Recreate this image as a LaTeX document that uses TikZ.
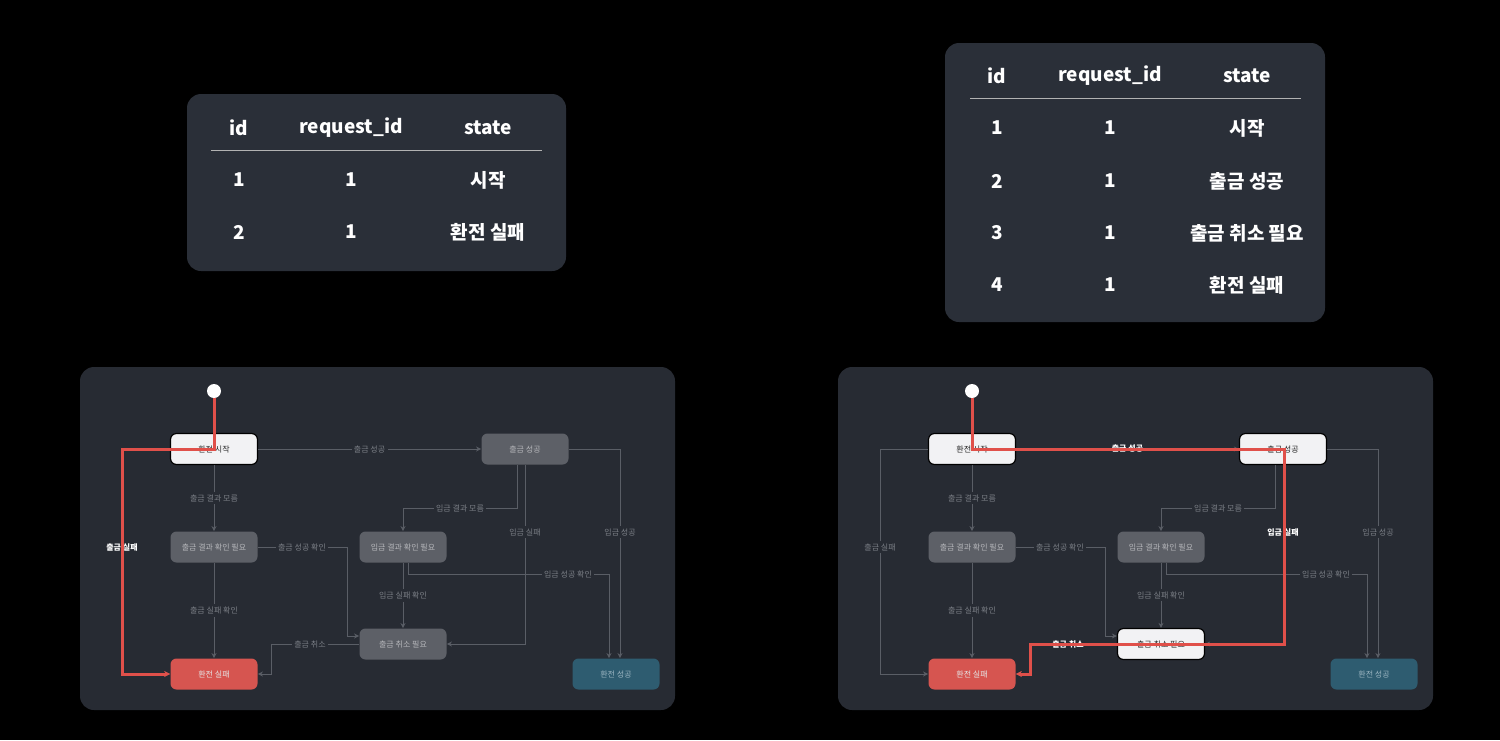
\documentclass[tikz,border=0pt]{standalone}
\usepackage{fontspec}
\setmainfont{Noto Sans CJK KR}
\usetikzlibrary{arrows.meta,calc}
\definecolor{panel}{HTML}{272B33}
\definecolor{tpanel}{HTML}{2A2F38}
\definecolor{gbox}{HTML}{5D6067}
\definecolor{gtext}{HTML}{B5B6BA}
\definecolor{edgec}{HTML}{5A5E66}
\definecolor{lblc}{HTML}{7A7E85}
\definecolor{redc}{HTML}{E0504A}
\definecolor{failc}{HTML}{D65550}
\definecolor{succc}{HTML}{2E5C70}
\definecolor{succt}{HTML}{9AB4C0}
\definecolor{wbox}{HTML}{F2F2F4}
\tikzset{
 box/.style={rectangle,rounded corners=3pt,minimum width=43.5pt,minimum height=15.5pt,inner sep=0pt,font=\fontsize{4}{5}\selectfont},
 gray/.style={fill=gbox,text=gtext},
 white/.style={fill=wbox,text=black!85,draw=black,line width=0.6pt},
 fail/.style={fill=failc,text=white!90!black},
 succ/.style={fill=succc,text=succt},
 circ/.style={circle,fill=white,minimum size=7pt,inner sep=0pt},
 edge/.style={draw=edgec,line width=0.5pt,-{Stealth[length=2.5pt,width=2.5pt]}},
 lbl/.style={fill=panel,text=lblc,inner sep=1.2pt,font=\fontsize{4}{5}\selectfont},
 hl/.style={text=white,font=\fontsize{4}{5}\selectfont\bfseries},
 redp/.style={draw=redc,line width=1.5pt,-{Stealth[length=3pt,width=3pt]}},
 th/.style={text=white,font=\fontsize{9.5}{11}\selectfont\bfseries},
 td/.style={text=white,font=\fontsize{9.5}{11}\selectfont\bfseries},
}
\newcommand\drawdiag{%
 \node[circ] (init) at (214,391) {};
 \node[box,nA] (st) at (214,449) {환전 시작};
 \node[box,nB] (ws) at (525,449) {출금 성공};
 \node[box,gray] (wc) at (214,547) {출금 결과 확인 필요};
 \node[box,gray] (dc) at (403,547) {입금 결과 확인 필요};
 \node[box,nC] (cn) at (403,644) {출금 취소 필요};
 \node[box,fail] (fl) at (214,674) {환전 실패};
 \node[box,succ] (ok) at (616,674) {환전 성공};
 \draw[edge] (st) -- (ws) node[lbl,lB,midway]{출금 성공};
 \draw[edge] (st) -- (wc) node[lbl,midway]{출금 결과 모름};
 \draw[edge] (wc) -- (fl) node[lbl,midway]{출금 실패 확인};
 \draw[edge] (st.west) -| (122,674) -- (fl.west);
 \node[lbl,lA] at (122,547) {출금 실패};
 \draw[edge] (wc.east) -| (347,636) -- (cn.west|-0,636);
 \node[lbl] at (302,547) {출금 성공 확인};
 \draw[edge] (ws.south-|517,0) |- (403,508) -- (dc.north);
 \node[lbl] at (460,508) {입금 결과 모름};
 \draw[edge] (ws.south) |- (cn.east);
 \node[lbl,lC] at (525,532) {입금 실패};
 \draw[edge] (ws.east) -| (ok.north-|620,0);
 \node[lbl] at (620,532) {입금 성공};
 \draw[edge] (dc.south-|408,0) |- (609,574) -- (ok.north-|609,0);
 \node[lbl] at (568,574) {입금 성공 확인};
 \draw[edge] (dc) -- (cn) node[lbl,midway]{입금 실패 확인};
 \draw[edge] (cn.west) -| (271,674) -- (fl.east);
 \node[lbl,lD] at (310,644) {출금 취소};
}
\begin{document}
\begin{tikzpicture}[x=0.5pt,y=-0.5pt]
\fill[black] (0,0) rectangle (1500,740);
\useasboundingbox (0,0) rectangle (1500,740);
% left table
\fill[tpanel,rounded corners=7pt] (187,94) rectangle (566,271);
\node[th] (lh1) at (239,128) {id};
\node[th] (lh2) at (351,128) {request\_id};
\node[th] (lh3) at (488,128) {state};
\draw[gray!60,line width=0.5pt] (211,150) -- (542,150);
\node[td] (l11) at (239,180) {1};
\node[td] (l12) at (351,180) {1};
\node[td] (l13) at (488,180) {시작};
\node[td] (l21) at (239,232) {2};
\node[td] (l22) at (351,232) {1};
\node[td] (l23) at (488,232) {환전 실패};
% right table
\fill[tpanel,rounded corners=7pt] (945,43) rectangle (1325,322);
\node[th] (rh1) at (997,76) {id};
\node[th] (rh2) at (1110,76) {request\_id};
\node[th] (rh3) at (1247,76) {state};
\draw[gray!60,line width=0.5pt] (970,98) -- (1301,98);
\node[td] (r11) at (997,128) {1};
\node[td] (r12) at (1110,128) {1};
\node[td] (r13) at (1247,128) {시작};
\node[td] (r21) at (997,181) {2};
\node[td] (r22) at (1110,181) {1};
\node[td] (r23) at (1247,181) {출금 성공};
\node[td] (r31) at (997,233) {3};
\node[td] (r32) at (1110,233) {1};
\node[td] (r33) at (1247,233) {출금 취소 필요};
\node[td] (r41) at (997,285) {4};
\node[td] (r42) at (1110,285) {1};
\node[td] (r43) at (1247,285) {환전 실패};
% panels
\fill[panel,rounded corners=7pt] (80,367) rectangle (675,710);
\fill[panel,rounded corners=7pt] (838,367) rectangle (1433,710);
% left diagram
\begin{scope}[name prefix=L-,nA/.style={white},nB/.style={gray},nC/.style={gray},lA/.style={hl},lB/.style={},lC/.style={},lD/.style={}]
 \drawdiag
 \draw[redp] (init) -- (214,449) -- (122,449) -- (122,674) -- (fl.west);
\end{scope}
% right diagram
\begin{scope}[xshift=379pt,name prefix=R-,nA/.style={white},nB/.style={white},nC/.style={white},lA/.style={},lB/.style={hl},lC/.style={hl},lD/.style={hl}]
 \drawdiag
 \draw[redp] (init) -- (214,449) -- (526,449) -- (526,644) -- (272,644) -- (272,674) -- (fl.east);
\end{scope}
\end{tikzpicture}
\end{document}
